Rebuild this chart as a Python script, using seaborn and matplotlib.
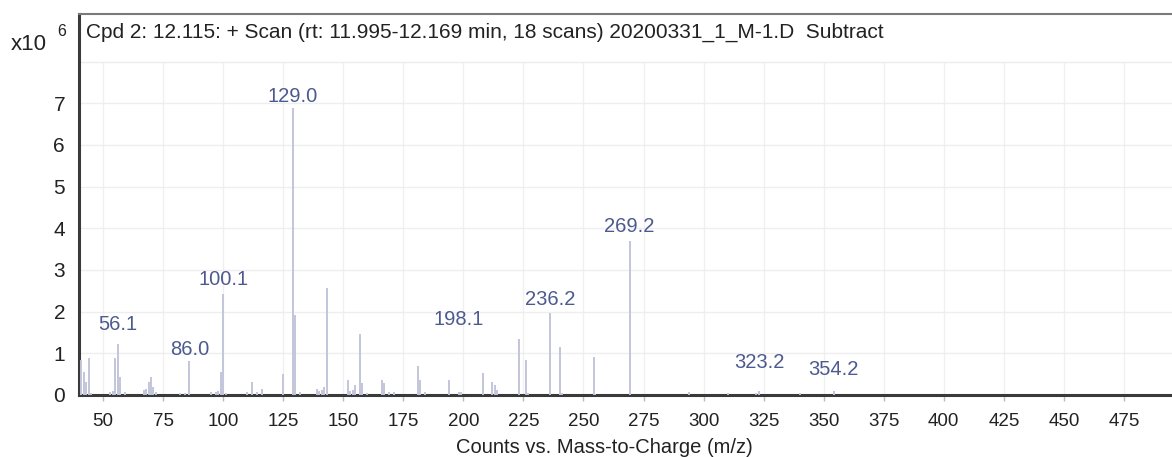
import seaborn as sns
import matplotlib.pyplot as plt
import matplotlib.transforms as mtransforms
import pandas as pd

# Peak list (m/z, counts in units of 1e6)
mz = [41, 42, 43, 44, 45, 53, 54, 55, 56.1, 57.1, 59, 67, 68, 69, 70, 71, 72,
      82, 84, 86.0, 95, 97, 98, 99, 100.1, 101, 110, 112, 114, 116, 125,
      129.0, 130.1, 132, 139, 140, 141, 142, 143.1, 152, 153, 154, 155, 157.1,
      158, 160, 166, 167, 169, 171, 181, 182, 184, 194, 198.1, 199, 208, 212,
      213, 214, 223, 226, 227, 236.2, 240.2, 241, 254.2, 255, 269.2, 294, 310,
      322, 323.2, 340, 354.2]
counts = [0.85, 0.55, 0.3, 0.88, 0.05, 0.08, 0.1, 0.88, 1.22, 0.42, 0.08, 0.12,
          0.15, 0.3, 0.42, 0.2, 0.08, 0.05, 0.05, 0.82, 0.06, 0.08, 0.1, 0.55,
          2.42, 0.05, 0.08, 0.3, 0.08, 0.15, 0.5, 6.88, 1.92, 0.08, 0.15, 0.1,
          0.12, 0.2, 2.57, 0.36, 0.1, 0.12, 0.25, 1.46, 0.28, 0.05, 0.36, 0.28,
          0.08, 0.08, 0.7, 0.35, 0.08, 0.35, 0.08, 0.08, 0.53, 0.3, 0.25, 0.12,
          1.35, 0.85, 0.05, 1.96, 1.16, 0.05, 0.9, 0.03, 3.69, 0.08, 0.04, 0.05,
          0.1, 0.04, 0.1]

# labelled peaks and the height their labels sit at in the software's layout
label_mz = [56.1, 86.0, 100.1, 129.0, 198.1, 236.2, 269.2, 323.2, 354.2]
label_y = [1.68, 1.10, 2.76, 7.15, 1.82, 2.30, 4.05, 0.79, 0.60]

x_ticks = list(range(50, 500, 25))
y_ticks = list(range(0, 8))
title = "Cpd 2: 12.115: + Scan (rt: 11.995-12.169 min, 18 scans) 20200331_1_M-1.D  Subtract"

df = pd.DataFrame({"mz": mz, "counts": counts})

sns.set_theme(style="white")
plt.rcParams["font.family"] = ["Liberation Sans", "DejaVu Sans"]

fig = plt.figure(figsize=(11.72, 4.57), dpi=100)
ax = fig.add_axes([0.0674, 0.1357, 0.9326, 0.8337])

ax.vlines(df["mz"], 0, df["counts"], color="#c3c6dc", linewidth=1.4, zorder=3)

for m, y in zip(label_mz, label_y):
    ax.text(m, y, f"{m:.1f}", ha="center", va="center", fontsize=14.5,
            color="#4d5a8f", zorder=4)

ax.set_xlim(40, 495)
ax.set_ylim(0, 9.14)
ax.set_xticks(x_ticks)
ax.set_yticks(y_ticks)
ax.tick_params(axis="x", labelsize=13.5, length=4, width=1, color="#bbbbbb",
               pad=9, labelcolor="#222222", direction="out", bottom=True)
ax.tick_params(axis="y", labelsize=15, length=0, pad=10, labelcolor="#222222")

# light grid in the data area only (below the header band)
for t in x_ticks:
    ax.plot([t, t], [0, 8], color="#f0f0f0", linewidth=1, zorder=1)
for t in range(1, 8):
    ax.axhline(t, color="#eeeeee", linewidth=1, zorder=1)
ax.axhline(8, color="#ececec", linewidth=1, zorder=1)

for side in ["left", "bottom"]:
    ax.spines[side].set_color("#3a3a3a")
    ax.spines[side].set_linewidth(2.2)
ax.spines["top"].set_color("#7a7a7a")
ax.spines["top"].set_linewidth(1.5)
ax.spines["right"].set_visible(False)

ax.set_xlabel("Counts vs. Mass-to-Charge (m/z)", fontsize=14.5, color="#222222",
              labelpad=5)
ax.xaxis.set_label_coords(0.481, -0.112)

trans = mtransforms.blended_transform_factory(ax.transAxes, ax.transData)
ax.text(0.006, 8.7, title, transform=trans, ha="left", va="center",
        fontsize=15, color="#222222")

fig.text(11 / 1172, 1 - 44 / 457, "x10", ha="left", va="center", fontsize=16,
         color="#222222")
fig.text(62 / 1172, 1 - 31 / 457, "6", ha="center", va="center", fontsize=11.5,
         color="#222222")

fig.savefig("out.png", dpi=100)
